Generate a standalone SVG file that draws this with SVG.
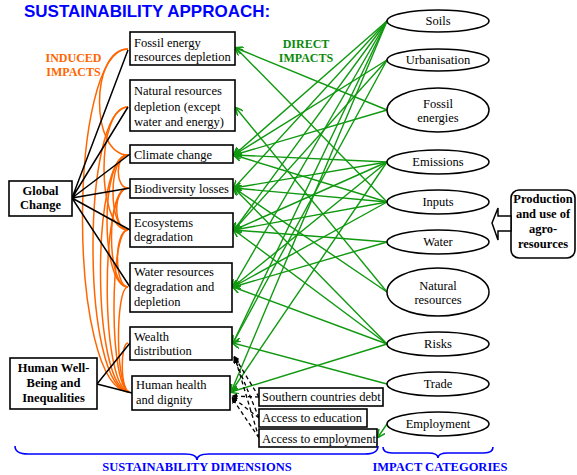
<svg xmlns="http://www.w3.org/2000/svg" width="577" height="475" viewBox="0 0 577 475">
<style>
.box{fill:#fff;stroke:#000;stroke-width:1.6}
.ell{fill:#fff;stroke:#000;stroke-width:1.5}
.t{font-family:"Liberation Serif","Times New Roman",serif;font-size:12.5px;fill:#000}
.b{font-weight:bold}
.c{text-anchor:middle}
.blk{stroke:#000;stroke-width:1.5;fill:none}
.org{stroke:#FF6600;stroke-width:1.5;fill:none}
.grn{stroke:#109910;stroke-width:1.4;fill:none;marker-end:url(#ga)}
.dsh{stroke:#000;stroke-width:1.3;fill:none;stroke-dasharray:4,3;marker-end:url(#ba)}
.brace{stroke:#0000FF;stroke-width:1.6;fill:none}
</style>
<defs>
<marker id="ga" viewBox="0 0 10 10" refX="9" refY="5" markerWidth="8" markerHeight="8" markerUnits="userSpaceOnUse" orient="auto">
<path d="M0,0 L10,5 L0,10" fill="none" stroke="#109910" stroke-width="2"/>
</marker>
<marker id="ba" viewBox="0 0 10 10" refX="9" refY="5" markerWidth="6" markerHeight="6" markerUnits="userSpaceOnUse" orient="auto">
<path d="M0,0 L10,5 L0,10 z" fill="#000"/>
</marker>
</defs>

<text x="24" y="17" font-family="Liberation Sans,Arial,sans-serif" font-size="17" font-weight="bold" fill="#0000FF">SUSTAINABILITY APPROACH:</text>
<text class="t b c" x="73.5" y="62" style="fill:#FF6600;font-size:12px">INDUCED</text>
<text class="t b c" x="73.5" y="76" style="fill:#FF6600;font-size:12px">IMPACTS</text>
<text class="t b c" x="306" y="48" style="fill:#0A8A0A;font-size:12px">DIRECT</text>
<text class="t b c" x="306" y="62" style="fill:#0A8A0A;font-size:12px">IMPACTS</text>

<g id="connectors">
<g id="orange">
<path class="org" d="M128,49 C67,49 67,392 130,392"/>
<path class="org" d="M128,107 C81,107 81,392 130,392"/>
<path class="org" d="M128,155 C91,155 91,392 130,392"/>
<path class="org" d="M128,188 C100,188 100,392 130,392"/>
<path class="org" d="M128,230 C109,230 109,392 130,392"/>
<path class="org" d="M128,287 C115,287 115,392 130,392"/>
<path class="org" d="M128,343 C120,343 120,392 130,392"/>
<path class="org" d="M128,107 C96,107 96,230 128,230"/>
<path class="org" d="M128,155 C108,155 108,230 128,230"/>
<path class="org" d="M128,155 C115,155 115,188 128,188"/>
<path class="org" d="M128,188 C113,188 113,230 128,230"/>
<path class="org" d="M128,155 C100,155 100,287 128,287"/>
<path class="org" d="M128,188 C106,188 106,287 128,287"/>
<path class="org" d="M128,230 C114,230 114,287 128,287"/>
<path class="org" d="M128,49 C90,49 90,155 128,155"/>
</g>
<g id="black">
<path class="blk" d="M72,198 L128,50 M72,198 L128,107 M72,198 L130,154 M72,198 L130,188 M72,198 L130,230 M72,198 L130,287"/>
<path class="blk" d="M97,384 L130,343 M97,384 L132,393"/>
</g>
<g id="green">
<path class="grn" d="M387,21 L234,155"/>
<path class="grn" d="M387,21 L234,188"/>
<path class="grn" d="M387,21 L234,230"/>
<path class="grn" d="M387,21 L233,287"/>
<path class="grn" d="M387,21 L233,343"/>
<path class="grn" d="M387,21 L231,392"/>
<path class="grn" d="M387,60 L234,155"/>
<path class="grn" d="M387,60 L234,230"/>
<path class="grn" d="M387,60 L233,343"/>
<path class="grn" d="M387,110 L236,48"/>
<path class="grn" d="M387,110 L234,155"/>
<path class="grn" d="M387,162 L234,155"/>
<path class="grn" d="M387,162 L234,188"/>
<path class="grn" d="M387,162 L234,230"/>
<path class="grn" d="M387,162 L233,287"/>
<path class="grn" d="M387,162 L231,392"/>
<path class="grn" d="M387,202 L236,48"/>
<path class="grn" d="M387,202 L234,155"/>
<path class="grn" d="M387,202 L234,188"/>
<path class="grn" d="M387,202 L234,230"/>
<path class="grn" d="M387,202 L233,287"/>
<path class="grn" d="M387,242 L234,230"/>
<path class="grn" d="M387,242 L233,287"/>
<path class="grn" d="M387,292 L236,108"/>
<path class="grn" d="M387,292 L234,188"/>
<path class="grn" d="M387,344 L234,230"/>
<path class="grn" d="M387,344 L233,287"/>
<path class="grn" d="M387,344 L231,392"/>
<path class="grn" d="M387,344 L234,188"/>
<path class="grn" d="M387,384 L233,343"/>
<path class="grn" d="M387,424 L378,437"/>
</g>
<g id="dashed">
<path class="dsh" d="M259,397 L234,356"/>
<path class="dsh" d="M259,418 L234,357"/>
<path class="dsh" d="M259,438 L235,358"/>
<path class="dsh" d="M259,397 L232,396"/>
<path class="dsh" d="M259,418 L232,397"/>
<path class="dsh" d="M259,438 L232,398"/>
</g>
</g>

<g id="fossil-depletion"><rect class="box" x="130" y="32" width="105" height="33"/>
<text class="t" x="134" y="47">Fossil energy</text><text class="t" x="134" y="61">resources depletion</text></g>
<g id="natural-depletion"><rect class="box" x="130" y="80" width="105" height="51"/>
<text class="t" x="134" y="95">Natural resources</text><text class="t" x="134" y="111">depletion (except</text><text class="t" x="134" y="126">water and energy)</text></g>
<g id="climate-change"><rect class="box" x="130" y="145" width="103" height="18"/>
<text class="t" x="134" y="159">Climate change</text></g>
<g id="biodiversity"><rect class="box" x="130" y="179" width="103" height="19"/>
<text class="t" x="134" y="193">Biodiversity losses</text></g>
<g id="ecosystems"><rect class="box" x="130" y="213" width="103" height="34"/>
<text class="t" x="134" y="227">Ecosystems</text><text class="t" x="134" y="241">degradation</text></g>
<g id="water-resources"><rect class="box" x="130" y="263" width="102" height="49"/>
<text class="t" x="134" y="276">Water resources</text><text class="t" x="134" y="291">degradation and</text><text class="t" x="134" y="306">depletion</text></g>
<g id="wealth"><rect class="box" x="130" y="327" width="102" height="33"/>
<text class="t" x="134" y="341">Wealth</text><text class="t" x="134" y="355">distribution</text></g>
<g id="human-health"><rect class="box" x="132" y="376" width="98" height="34"/>
<text class="t" x="136" y="389">Human health</text><text class="t" x="136" y="404">and dignity</text></g>
<g id="global-change"><rect class="box" x="9" y="181" width="63" height="35"/>
<text class="t b c" x="40.5" y="195">Global</text><text class="t b c" x="40.5" y="209">Change</text></g>
<g id="human-wellbeing"><rect class="box" x="10" y="358" width="87" height="51"/>
<text class="t b c" x="53.5" y="372">Human Well-</text><text class="t b c" x="53.5" y="387">Being and</text><text class="t b c" x="53.5" y="402">Inequalities</text></g>
<g id="southern-debt"><rect class="box" x="259" y="388" width="124" height="18"/>
<text class="t" x="262" y="401">Southern countries debt</text></g>
<g id="education"><rect class="box" x="259" y="409" width="108" height="18"/>
<text class="t" x="262" y="422">Access to education</text></g>
<g id="employment-access"><rect class="box" x="259" y="429" width="118" height="18"/>
<text class="t" x="262" y="443">Access to employment</text></g>

<g id="soils"><ellipse class="ell" cx="438" cy="21" rx="51" ry="11"/><text class="t c" x="438" y="25">Soils</text></g>
<g id="urbanisation"><ellipse class="ell" cx="438" cy="60" rx="51" ry="11"/><text class="t c" x="438" y="64">Urbanisation</text></g>
<g id="fossil-energies"><ellipse class="ell" cx="438" cy="110" rx="51" ry="22"/><text class="t c" x="438" y="108">Fossil</text><text class="t c" x="438" y="122">energies</text></g>
<g id="emissions"><ellipse class="ell" cx="438" cy="162" rx="51" ry="12"/><text class="t c" x="438" y="166">Emissions</text></g>
<g id="inputs"><ellipse class="ell" cx="438" cy="202" rx="51" ry="12"/><text class="t c" x="438" y="206">Inputs</text></g>
<g id="water"><ellipse class="ell" cx="438" cy="242" rx="51" ry="12"/><text class="t c" x="438" y="246">Water</text></g>
<g id="natural-resources"><ellipse class="ell" cx="438" cy="292" rx="51" ry="24"/><text class="t c" x="438" y="290">Natural</text><text class="t c" x="438" y="304">resources</text></g>
<g id="risks"><ellipse class="ell" cx="438" cy="344" rx="51" ry="12"/><text class="t c" x="438" y="348">Risks</text></g>
<g id="trade"><ellipse class="ell" cx="438" cy="384" rx="51" ry="12"/><text class="t c" x="438" y="388">Trade</text></g>
<g id="employment"><ellipse class="ell" cx="438" cy="424" rx="51" ry="12"/><text class="t c" x="438" y="428">Employment</text></g>

<g id="production"><rect class="box" x="511" y="190" width="64" height="68" rx="8" ry="8"/>
<text class="t b c" x="543" y="203">Production</text><text class="t b c" x="543" y="218">and use of</text><text class="t b c" x="543" y="233">agro-</text><text class="t b c" x="543" y="248">resources</text></g>
<g id="block-arrow"><polygon points="492,223 498,208 498,216 511,216 511,231 498,231 498,240" fill="#fff" stroke="#000" stroke-width="1.5"/></g>

<g id="braces">
<path class="brace" d="M15,446 Q15,454 28,454 L185,454 Q197,454 197,460 Q197,454 209,454 L365,454 Q378,454 378,446"/>
<path class="brace" d="M383,447 Q383,453 392,453 L428,453 Q438,453 438,458 Q438,453 448,453 L484,453 Q493,453 493,447"/>
</g>
<text class="t b c" x="197" y="471" style="fill:#0000FF;font-size:12.5px">SUSTAINABILITY DIMENSIONS</text>
<text class="t b c" x="440" y="471" style="fill:#0000FF;font-size:12.5px">IMPACT CATEGORIES</text>
</svg>
